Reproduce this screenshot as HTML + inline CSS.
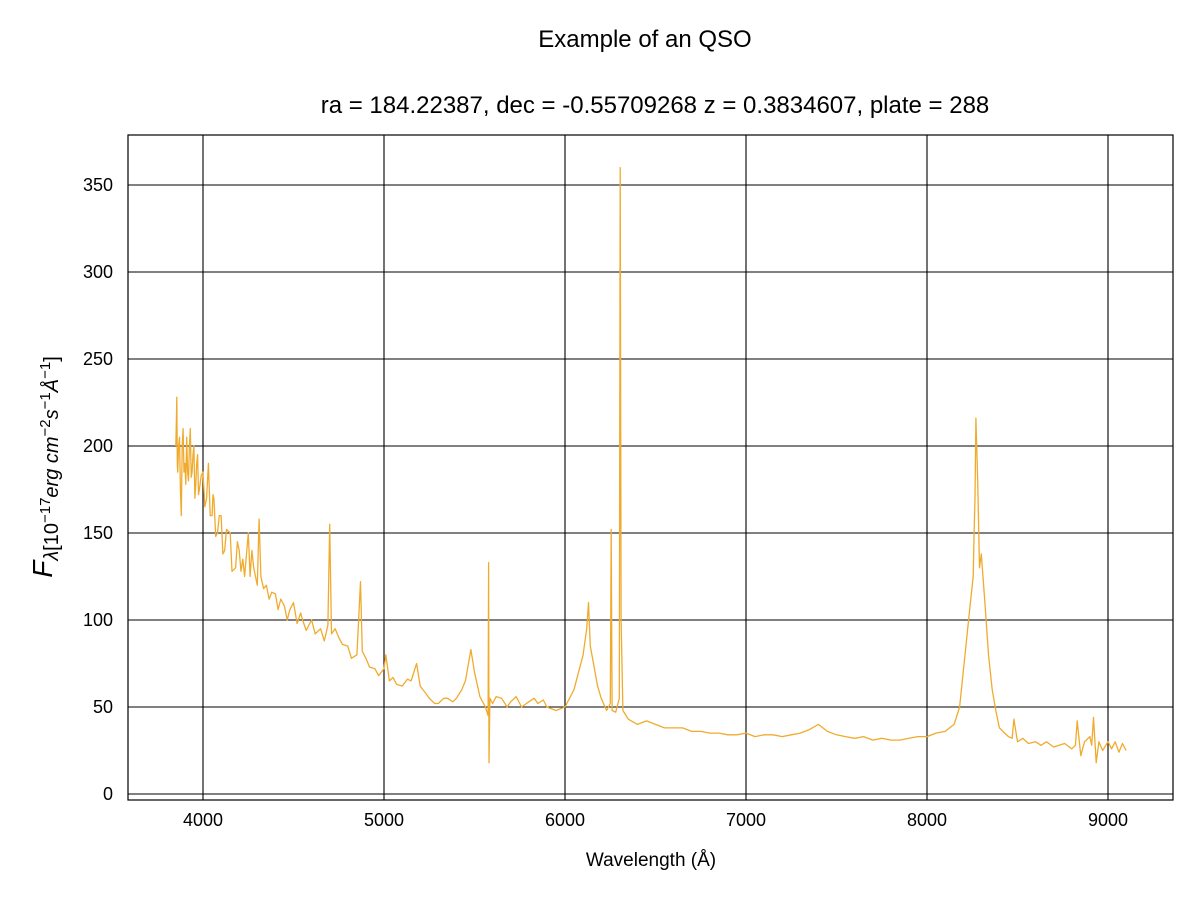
<!DOCTYPE html>
<html><head><meta charset="utf-8"><style>
body{margin:0;background:#fff}
svg text{font-family:"Liberation Sans","DejaVu Sans",sans-serif;fill:#000}
</style></head><body>
<svg id="chart" width="1200" height="900" xmlns="http://www.w3.org/2000/svg">
<rect width="1200" height="900" fill="#fff"/>
<text x="645" y="47" font-size="24" text-anchor="middle">Example of an QSO</text>
<text x="655" y="113" font-size="24" text-anchor="middle">ra = 184.22387, dec = -0.55709268 z = 0.3834607, plate = 288</text>
<g id="grid"></g>
<g id="ticks"></g>
<path id="spec" fill="none" stroke="#f0ab2e" stroke-width="1.3" stroke-linejoin="round"/>
<rect x="128" y="135" width="1045" height="665" fill="none" stroke="#000" stroke-width="1.2"/>
<text x="651" y="866" font-size="19" text-anchor="middle">Wavelength (Å)</text>
<text transform="translate(52,467) rotate(-90)" text-anchor="middle" font-family="DejaVu Sans, sans-serif"><tspan font-style="italic" font-size="28">F</tspan><tspan font-style="italic" font-size="20" dy="6">λ</tspan><tspan font-size="20">[10</tspan><tspan font-size="15" dy="-8">−17</tspan><tspan font-size="20" font-style="italic" dy="8">erg cm</tspan><tspan font-size="15" dy="-8">−2</tspan><tspan font-size="20" font-style="italic" dy="8">s</tspan><tspan font-size="15" dy="-8">−1</tspan><tspan font-size="20" font-style="italic" dy="8">Å</tspan><tspan font-size="15" dy="-8">−1</tspan><tspan font-size="20" dy="8">]</tspan></text>
</svg>
<script>
const xTicks=[4000,5000,6000,7000,8000,9000];
const yTicks=[0,50,100,150,200,250,300,350];
const wavelength=[3850,3853,3855,3858,3860,3865,3870,3875,3880,3885,3890,3895,3900,3905,3910,3915,3920,3925,3930,3935,3940,3945,3950,3955,3960,3965,3970,3975,3980,3990,4000,4010,4020,4025,4030,4040,4050,4055,4060,4070,4080,4090,4100,4110,4120,4130,4150,4160,4180,4190,4200,4210,4220,4230,4250,4260,4270,4280,4290,4300,4310,4320,4335,4350,4365,4380,4400,4415,4430,4450,4465,4480,4500,4520,4540,4550,4570,4600,4620,4650,4670,4690,4700,4710,4730,4750,4770,4800,4820,4850,4870,4880,4900,4920,4950,4970,5000,5010,5030,5050,5070,5100,5130,5150,5180,5200,5230,5250,5280,5300,5330,5350,5380,5400,5430,5450,5480,5500,5530,5560,5575,5578,5580,5585,5600,5620,5650,5680,5700,5730,5760,5800,5830,5850,5880,5900,5950,6000,6050,6100,6120,6130,6140,6180,6200,6230,6250,6255,6260,6280,6300,6305,6310,6320,6350,6400,6450,6500,6550,6600,6650,6700,6750,6800,6850,6900,6950,7000,7050,7100,7150,7200,7250,7300,7350,7400,7450,7500,7550,7600,7650,7700,7750,7800,7850,7900,7950,8000,8050,8100,8150,8180,8200,8220,8240,8255,8260,8265,8270,8280,8290,8300,8320,8340,8360,8380,8400,8430,8450,8470,8480,8500,8530,8560,8600,8630,8660,8700,8730,8760,8800,8820,8830,8850,8870,8900,8910,8920,8935,8950,8970,9000,9020,9040,9060,9080,9100];
const flux=[200,215,228,190,185,200,205,175,160,200,210,185,190,178,205,185,180,200,210,182,185,195,200,170,178,190,195,172,175,183,185,165,170,180,190,160,160,172,170,148,150,160,160,138,140,152,150,128,130,145,140,128,135,125,150,125,140,130,125,120,158,125,118,120,112,116,115,106,112,108,100,106,110,98,104,100,94,100,92,95,88,97,155,92,95,90,86,85,78,80,122,82,78,73,72,68,72,80,65,67,63,62,66,65,75,62,58,55,52,52,55,55,53,55,60,65,83,70,56,50,45,133,18,55,52,56,55,50,53,56,50,53,55,52,54,50,48,50,60,80,95,110,85,62,55,48,52,152,48,47,55,360,100,48,43,40,42,40,38,38,38,36,36,35,35,34,34,35,33,34,34,33,34,35,37,40,36,34,33,32,33,31,32,31,31,32,33,33,35,36,40,50,70,90,110,125,150,170,216,180,130,138,110,80,60,48,38,35,33,32,43,30,32,29,30,28,30,27,28,29,26,28,42,22,30,33,28,44,18,30,25,30,26,30,24,29,25,28];
const X=v=>203+(v-4000)*0.181;
const Y=v=>794-v*1.74;
const NS="http://www.w3.org/2000/svg";
const grid=document.getElementById('grid'),ticks=document.getElementById('ticks');
function mk(tag,attrs,parent){const e=document.createElementNS(NS,tag);for(const k in attrs)e.setAttribute(k,attrs[k]);parent.appendChild(e);return e;}
xTicks.forEach(t=>{
  const l=mk('line',{x1:X(t),x2:X(t),y1:135,y2:800,stroke:'#000','stroke-width':1.1},grid);
  
  
  const tx=mk('text',{x:X(t),y:826,'font-size':18,'text-anchor':'middle'},ticks);
  tx.textContent=t;
  
  
});
yTicks.forEach(t=>{
  const l=mk('line',{x1:128,x2:1173,y1:Y(t),y2:Y(t),stroke:'#000','stroke-width':1.1},grid);
  
  
  const tx=mk('text',{x:113,y:Y(t)+6,'font-size':18,'text-anchor':'end'},ticks);
  tx.textContent=t;
  
  
});
document.getElementById('spec').setAttribute('d',wavelength.map((w,i)=>(i?'L':'M')+X(w).toFixed(1)+','+Y(flux[i]).toFixed(1)).join(''));
</script>
</body></html>
